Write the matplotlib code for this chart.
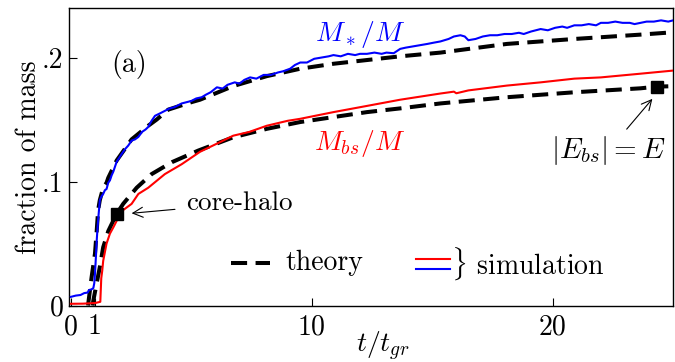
import numpy as np
import matplotlib
matplotlib.use("Agg")
import matplotlib.pyplot as plt

plt.rcParams['font.family'] = 'cmr10'
plt.rcParams['mathtext.fontset'] = 'cm'
plt.rcParams['axes.formatter.use_mathtext'] = True
plt.rcParams['font.size'] = 20

# simulacion: fraccion de masa en estrellas (azul)
t_star = [0.0, 0.2, 0.4, 0.55, 0.7, 0.75, 0.85, 0.93, 0.97, 1.0,
          1.04, 1.07, 1.1, 1.13, 1.17, 1.2, 1.27, 1.34, 1.41, 1.48,
          1.55, 1.62, 1.69, 1.76, 1.83, 1.9, 2.0, 2.1, 2.24, 2.38,
          2.52, 2.66, 2.8, 2.95, 3.1, 3.21, 3.35, 3.49, 3.7, 3.9,
          4.1, 4.3, 4.6, 4.8, 5.0, 5.2, 5.43, 5.6, 5.8, 6.06,
          6.3, 6.5, 6.8, 7.0, 7.2, 7.44, 7.7, 8.0, 8.3, 8.6,
          8.82, 9.1, 9.3, 9.52, 9.8, 10.1, 10.4, 10.7, 10.9, 11.2,
          11.5, 11.8, 12.0, 12.29, 12.6, 12.9, 13.1, 13.4, 13.67, 13.9,
          14.2, 14.5, 14.8, 15.06, 15.34, 15.68, 15.9, 16.17, 16.35, 16.5,
          16.8, 17.1, 17.4, 17.7, 18.0, 18.3, 18.6, 18.8, 19.1, 19.3,
          19.5, 19.8, 20.1, 20.4, 20.6, 20.9, 21.2, 21.5, 21.8, 22.0,
          22.3, 22.6, 22.9, 23.2, 23.4, 23.65, 23.9, 24.2, 24.5, 24.8,
          25.0]
f_star = [0.007, 0.008, 0.0085, 0.010, 0.0105, 0.0125, 0.013, 0.014, 0.018, 0.026,
          0.040, 0.052, 0.061, 0.069, 0.078, 0.085, 0.088, 0.090, 0.093, 0.094,
          0.099, 0.101, 0.105, 0.108, 0.112, 0.116, 0.119, 0.122, 0.126, 0.129,
          0.133, 0.134, 0.136, 0.140, 0.142, 0.144, 0.149, 0.153, 0.155, 0.157,
          0.159, 0.160, 0.163, 0.164, 0.165, 0.167, 0.168, 0.170, 0.172, 0.176,
          0.175, 0.178, 0.180, 0.179, 0.182, 0.184, 0.183, 0.186, 0.186, 0.188,
          0.189, 0.191, 0.194, 0.196, 0.196, 0.199, 0.200, 0.201, 0.202, 0.201,
          0.203, 0.202, 0.203, 0.203, 0.204, 0.203, 0.204, 0.2035, 0.207, 0.208,
          0.209, 0.210, 0.211, 0.212, 0.213, 0.215, 0.217, 0.218, 0.217, 0.214,
          0.215, 0.217, 0.218, 0.218, 0.219, 0.219, 0.220, 0.219, 0.221, 0.222,
          0.223, 0.222, 0.224, 0.225, 0.224, 0.226, 0.226, 0.227, 0.226, 0.228,
          0.228, 0.229, 0.228, 0.228, 0.227, 0.228, 0.229, 0.229, 0.230, 0.229,
          0.230]

# simulacion: fraccion de masa en estrellas de bosones (rojo)
t_bs = [0.0, 0.5, 1.0, 1.22, 1.26, 1.3, 1.34, 1.41, 1.48, 1.55,
        1.62, 1.76, 1.97, 2.17, 2.52, 2.8, 3.21, 3.9, 4.6, 5.36,
        6.0, 6.74, 7.4, 8.13, 9.0, 9.52, 10.9, 12.29, 13.67, 15.34,
        15.9, 16.0, 16.5, 18.1, 19.5, 20.9, 22.0, 23.65, 25.0]
f_bs = [0.0014, 0.0015, 0.002, 0.003, 0.022, 0.028, 0.036, 0.043, 0.050, 0.054,
        0.058, 0.063, 0.071, 0.077, 0.082, 0.090, 0.095, 0.106, 0.114, 0.124,
        0.130, 0.137, 0.140, 0.145, 0.149, 0.1506, 0.156, 0.161, 0.166, 0.171,
        0.1725, 0.1712, 0.1735, 0.1774, 0.180, 0.183, 0.184, 0.187, 0.1895]

# teoria
t_th_star = [0.71, 0.86, 1.0, 1.07, 1.13, 1.2, 1.34, 1.48, 1.55, 1.9,
             2.52, 3.21, 3.56, 4.04, 5.0, 5.36, 6.74, 8.13, 9.52, 10.9,
             12.29, 13.67, 15.34, 18.1, 20.9, 23.65, 25.0]
f_th_star = [0.0, 0.023, 0.042, 0.060, 0.077, 0.085, 0.095, 0.099, 0.103, 0.117,
             0.134, 0.145, 0.150, 0.158, 0.164, 0.166, 0.177, 0.185, 0.191, 0.195,
             0.198, 0.201, 0.204, 0.211, 0.215, 0.2185, 0.2204]

t_th_bs = [0.9, 0.93, 1.2, 1.34, 1.55, 1.9, 2.17, 2.73, 3.35, 4.19,
           5.29, 6.74, 8.13, 9.52, 10.9, 12.29, 13.67, 15.34, 18.1, 20.9,
           23.65, 24.34, 24.8]
f_th_bs = [0.0, 0.004, 0.031, 0.047, 0.060, 0.074, 0.082, 0.095, 0.106, 0.1156,
           0.125, 0.1357, 0.1425, 0.148, 0.152, 0.156, 0.159, 0.163, 0.168, 0.172,
           0.1752, 0.1766, 0.1768]

# puntos marcados
t_core, f_core = 1.9, 0.074
t_ebs, f_ebs = 24.34, 0.1766

xticks = [0, 1, 10, 20]
xtick_labels = ['0', '1', '10', '20']
yticks = [0, 0.1, 0.2]
ytick_labels = ['0', '.1', '.2']

fig = plt.figure(figsize=(6.75, 3.62), dpi=100)
ax = fig.add_axes([0.1022, 0.156, 0.895, 0.822])

dash = (0, (4.0, 2.1))
ax.plot(t_th_star, f_th_star, color='black', lw=2.9, linestyle=dash, zorder=2)
ax.plot(t_th_bs, f_th_bs, color='black', lw=2.9, linestyle=dash, zorder=2)
ax.plot(t_star, f_star, color='#0000ff', lw=1.5, zorder=3)
ax.plot(t_bs, f_bs, color='#ff0000', lw=1.5, zorder=3)
ax.plot([t_core, t_ebs], [f_core, f_ebs], 's', color='black', ms=8, zorder=4)

ax.text(12.0, 0.219, r'$M_*/M$', color='#0000ff', ha='center', va='center', fontsize=20)
ax.text(11.97, 0.1306, r'$M_{bs}/M$', color='#ff0000', ha='center', va='center', fontsize=20)
ax.text(2.41, 0.194, '(a)', ha='center', va='center')

ax.annotate('core-halo', xy=(2.52, 0.0744), xytext=(4.78, 0.0823),
            va='center', ha='left', fontsize=19.5,
            arrowprops=dict(arrowstyle='->', color='black', lw=0.8,
                            shrinkA=6, shrinkB=0, mutation_scale=18))
ax.annotate(r'$|E_{bs}| = E$', xy=(24.14, 0.1667), xytext=(22.32, 0.125),
            va='center', ha='center', fontsize=21,
            arrowprops=dict(arrowstyle='->', color='black', lw=0.8,
                            shrinkA=2, shrinkB=0, mutation_scale=18))

# leyenda hecha a mano
ax.plot([0.269, 0.332], [0.142, 0.142], transform=ax.transAxes,
        color='black', lw=2.9, linestyle=dash)
ax.text(0.359, 0.143, 'theory', transform=ax.transAxes, va='center', ha='left')
ax.plot([0.575, 0.631], [0.155, 0.155], transform=ax.transAxes, color='#ff0000', lw=1.5)
ax.plot([0.575, 0.631], [0.122, 0.122], transform=ax.transAxes, color='#0000ff', lw=1.5)
ax.text(0.633, 0.14, r'$\}$ simulation', transform=ax.transAxes, va='center', ha='left')

ax.set_xlim(-0.08, 25)
ax.set_ylim(0, 0.24)
ax.set_xticks(xticks)
ax.set_xticklabels(xtick_labels)
ax.set_yticks(yticks)
ax.set_yticklabels(ytick_labels)
ax.tick_params(axis='both', direction='in', length=5.5, width=0.8)
ax.tick_params(axis='x', pad=6)
ax.tick_params(axis='y', pad=4)
for s in ax.spines.values():
    s.set_linewidth(1.0)

ax.set_xlabel(r'$t/t_{gr}$')
ax.xaxis.set_label_coords(0.52, -0.082)
ax.set_ylabel('fraction of mass')
ax.yaxis.set_label_coords(-0.045, 0.5)

fig.savefig('out.png', dpi=100)
